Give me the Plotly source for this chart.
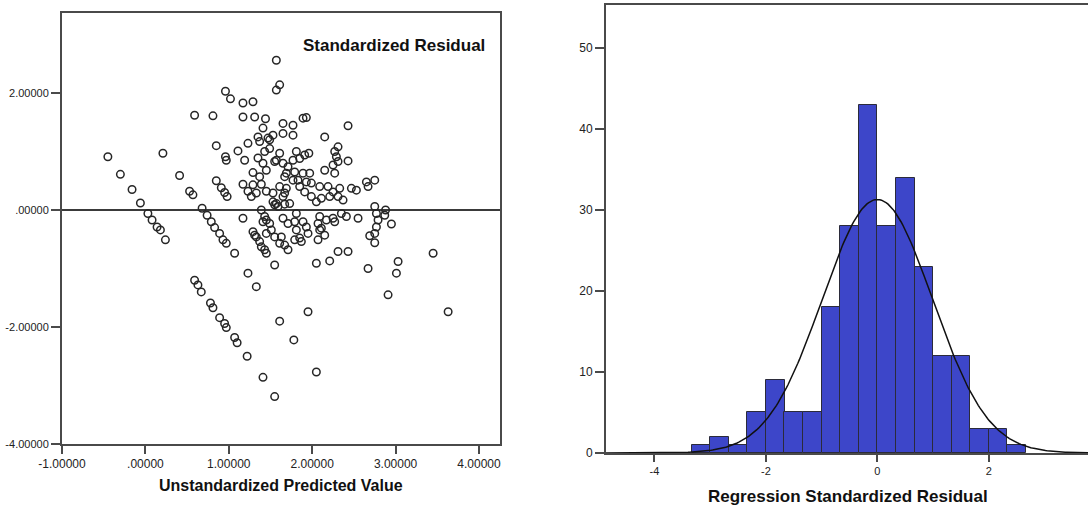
import numpy as np
import plotly.graph_objects as go

# ---------------- Scatter: Unstandardized Predicted Value vs Standardized Residual
pred = [-0.45, -0.30, -0.16, -0.06, 0.03, 0.08, 0.14, 0.18, 0.24, 0.21, 0.41, 0.53, 0.57,
        0.59, 0.81, 0.85, 0.68, 0.74, 0.79, 0.83, 0.89, 0.93, 0.97, 0.85, 0.91, 0.95, 0.98,
        0.96, 1.02, 1.17, 1.29, 1.17, 1.31, 1.44, 0.96, 0.97, 1.11, 1.23, 1.35, 1.41, 1.19,
        1.29, 1.17, 1.23, 1.27, 1.35, 1.41, 1.45, 1.39, 1.45, 1.17, 1.29, 1.33, 1.37, 1.39,
        1.43, 1.49, 1.57, 1.57, 1.61, 1.65, 1.77, 1.89, 1.93, 2.43, 2.15, 1.53, 1.65, 1.77,
        1.37, 1.47, 1.43, 1.61, 1.49, 1.81, 1.91, 1.85, 1.77, 1.96, 2.31, 2.27, 2.29, 2.43,
        2.31, 2.25, 2.15, 2.27, 1.57, 1.65, 1.71, 1.69, 1.79, 1.83, 1.77, 1.89, 1.97, 1.93,
        1.99, 2.09, 2.19, 2.25, 2.11, 2.21, 2.33, 2.31, 2.37, 2.47, 2.53, 2.65, 2.75, 2.67,
        1.29, 1.33, 1.53, 1.61, 1.69, 1.65, 1.57, 1.67, 1.73, 1.85, 1.91, 1.99, 2.05, 2.75,
        2.87, 2.79, 2.95, 2.77, 2.75, 2.69, 1.41, 1.45, 1.51, 1.55, 1.65, 1.79, 1.81, 1.93,
        1.95, 2.09, 2.09, 2.17, 2.25, 2.27, 2.35, 2.41, 2.55, 1.79, 2.15, 2.07, 1.81, 2.77,
        2.88, 1.71, 1.89, 2.07, 2.11, 1.85, 1.87, 1.63, 1.67, 1.71, 2.31, 2.43, 2.21, 2.05,
        2.67, 3.03, 3.01, 1.49, 1.55, 1.67, 1.37, 1.67, 1.53, 1.55, 1.59, 1.45, 1.31, 1.39,
        1.43, 1.45, 1.61, 1.07, 1.55, 1.23, 0.59, 0.63, 1.33, 0.67, 0.78, 0.81, 0.89, 0.95,
        0.97, 1.07, 1.10, 1.22, 1.41, 1.55, 1.61, 2.75, 3.45, 2.91, 3.63, 1.95, 1.78, 2.05]
resid = [0.91, 0.61, 0.35, 0.12, -0.06, -0.17, -0.29, -0.34, -0.51, 0.97, 0.59, 0.32, 0.26,
         1.62, 1.61, 1.10, 0.03, -0.09, -0.20, -0.30, -0.40, -0.51, -0.57, 0.50, 0.38, 0.30, 0.23,
         2.03, 1.90, 1.83, 1.85, 1.59, 1.59, 1.56, 0.91, 0.85, 1.01, 1.14, 1.25, 1.40, 0.85,
         0.64, 0.44, 0.32, 0.23, 0.89, 0.80, 0.68, 0.44, 0.32, -0.14, -0.37, -0.46, -0.54, 0.00,
         -0.11, -0.23, 2.56, 2.05, 2.14, 1.48, 1.45, 1.57, 1.58, 1.44, 1.25, 1.28, 1.31, 1.28,
         1.17, 1.23, 1.00, 0.97, 1.05, 1.00, 0.94, 0.88, 0.85, 0.97, 1.08, 1.00, 0.91, 0.84,
         0.83, 0.77, 0.68, 0.63, 0.85, 0.80, 0.74, 0.63, 0.65, 0.51, 0.51, 0.63, 0.63, 0.48,
         0.46, 0.40, 0.40, 0.31, 0.20, 0.23, 0.37, 0.23, 0.17, 0.37, 0.34, 0.48, 0.51, 0.40,
         0.43, 0.29, 0.29, 0.40, 0.37, 0.23, 0.11, 0.10, 0.11, 0.40, 0.31, 0.23, 0.14, 0.06,
         -0.09, -0.17, -0.24, -0.29, -0.40, -0.44, -0.20, -0.40, -0.34, -0.46, -0.14, -0.20, -0.34, -0.29,
         -0.40, -0.11, -0.34, -0.17, -0.14, -0.20, -0.06, -0.11, -0.14, -0.51, -0.43, -0.51, -0.06, -0.06,
         0.00, -0.23, -0.20, -0.23, -0.31, -0.48, -0.54, -0.46, -0.60, -0.68, -0.71, -0.71, -0.87, -0.91,
         -1.00, -0.88, -1.08, 1.20, 0.83, 0.57, 0.57, 0.29, 0.14, 0.09, 0.06, -0.17, -0.43, -0.63,
         -0.68, -0.74, -0.57, -0.74, -0.94, -1.08, -1.20, -1.28, -1.31, -1.40, -1.59, -1.67, -1.84, -1.94,
         -2.01, -2.18, -2.27, -2.50, -2.86, -3.19, -1.90, -0.56, -0.74, -1.45, -1.74, -1.74, -2.22, -2.77]

x1_ticks = [-1, 0, 1, 2, 3, 4]
x1_labels = ["-1.00000", ".00000", "1.00000", "2.00000", "3.00000", "4.00000"]
y1_ticks = [-4, -2, 0, 2]
y1_labels = ["-4.00000", "-2.00000", ".00000", "2.00000"]

# ---------------- Histogram of Regression Standardized Residual
bin_starts = [-3.333, -3.0, -2.667, -2.333, -2.0, -1.667, -1.333, -1.0, -0.667, -0.333,
              0.0, 0.333, 0.667, 1.0, 1.333, 1.667, 2.0, 2.333]
counts = [1, 2, 1, 5, 9, 5, 5, 18, 28, 43, 28, 34, 23, 12, 12, 3, 3, 1]
bin_width = 1 / 3
resid_mean = 0.0
resid_std = 0.99
n_obs = sum(counts)

x2_ticks = [-4, -2, 0, 2]
x2_labels = ["-4", "-2", "0", "2"]
y2_ticks = [0, 10, 20, 30, 40, 50]

W, H = 1088, 506
FONT = "Arial, Liberation Sans, sans-serif"
AX = "#4a4a4a"

fig = go.Figure()

fig.add_trace(go.Scatter(
    x=pred, y=resid, mode="markers", xaxis="x", yaxis="y",
    marker=dict(symbol="circle-open", size=7.5, color="#262626", line=dict(width=1.5)),
    showlegend=False, hoverinfo="skip"))

centers = [b + bin_width / 2 for b in bin_starts]
fig.add_trace(go.Bar(
    x=centers, y=counts, width=bin_width, xaxis="x2", yaxis="y2",
    marker=dict(color="#3d46c9", line=dict(color="#2b2b3a", width=1)),
    showlegend=False, hoverinfo="skip"))

xs = np.linspace(-4.9, 3.9, 300)
ys = n_obs * bin_width / (resid_std * np.sqrt(2 * np.pi)) * np.exp(-0.5 * ((xs - resid_mean) / resid_std) ** 2)
fig.add_trace(go.Scatter(
    x=xs, y=ys, mode="lines", xaxis="x2", yaxis="y2",
    line=dict(color="#111111", width=1.5), showlegend=False, hoverinfo="skip"))

def px_x(p):
    return p / W

def px_y(p):
    return 1 - p / H

axis_common = dict(showgrid=False, showline=True, linecolor=AX, linewidth=2,
                   ticks="outside", tickcolor=AX, tickwidth=2, automargin=False)

fig.update_layout(
    width=W, height=H,
    margin=dict(l=0, r=0, t=0, b=0, autoexpand=False),
    paper_bgcolor="white", plot_bgcolor="white",
    bargap=0,
    xaxis=dict(domain=[px_x(62), px_x(500)], range=[-1, 4.252],
               tickvals=x1_ticks, ticktext=x1_labels, ticklen=8,
               tickfont=dict(family=FONT, size=12, color="#222"),
               mirror=True, zeroline=False, anchor="y", **axis_common),
    yaxis=dict(domain=[px_y(444), px_y(13)], range=[-4, 3.368],
               tickvals=y1_ticks, ticktext=y1_labels, ticklen=9,
               tickfont=dict(family=FONT, size=11, color="#222"),
               mirror=True, zeroline=True, zerolinecolor="#3a3a3a", zerolinewidth=2,
               anchor="x", **axis_common),
    xaxis2=dict(domain=[px_x(606), 1.0], range=[-4.87, 3.78],
                tickvals=x2_ticks, ticktext=x2_labels, ticklen=7,
                tickfont=dict(family=FONT, size=11, color="#222"),
                mirror=True, zeroline=False, anchor="y2", **axis_common),
    yaxis2=dict(domain=[px_y(453), px_y(5)], range=[0, 55.3],
                tickvals=y2_ticks, ticklen=9,
                tickfont=dict(family=FONT, size=12, color="#222"),
                mirror=False, zeroline=False, anchor="x2", **axis_common),
    annotations=[
        dict(text="<b>Standardized Residual</b>", x=px_x(487), y=px_y(45),
             xref="paper", yref="paper", xanchor="right", yanchor="middle",
             showarrow=False, font=dict(family=FONT, size=17, color="#111")),
        dict(text="<b>Unstandardized Predicted Value</b>", x=px_x(281), y=px_y(485),
             xref="paper", yref="paper", xanchor="center", yanchor="middle",
             showarrow=False, font=dict(family=FONT, size=16, color="#111")),
        dict(text="<b>Regression Standardized Residual</b>", x=px_x(848), y=px_y(496),
             xref="paper", yref="paper", xanchor="center", yanchor="middle",
             showarrow=False, font=dict(family=FONT, size=17, color="#111")),
    ],
)

fig.write_html("out.html", config={"displayModeBar": False},
               post_script="document.body.style.margin='0px';document.body.style.padding='0px';document.body.style.overflow='hidden';")
